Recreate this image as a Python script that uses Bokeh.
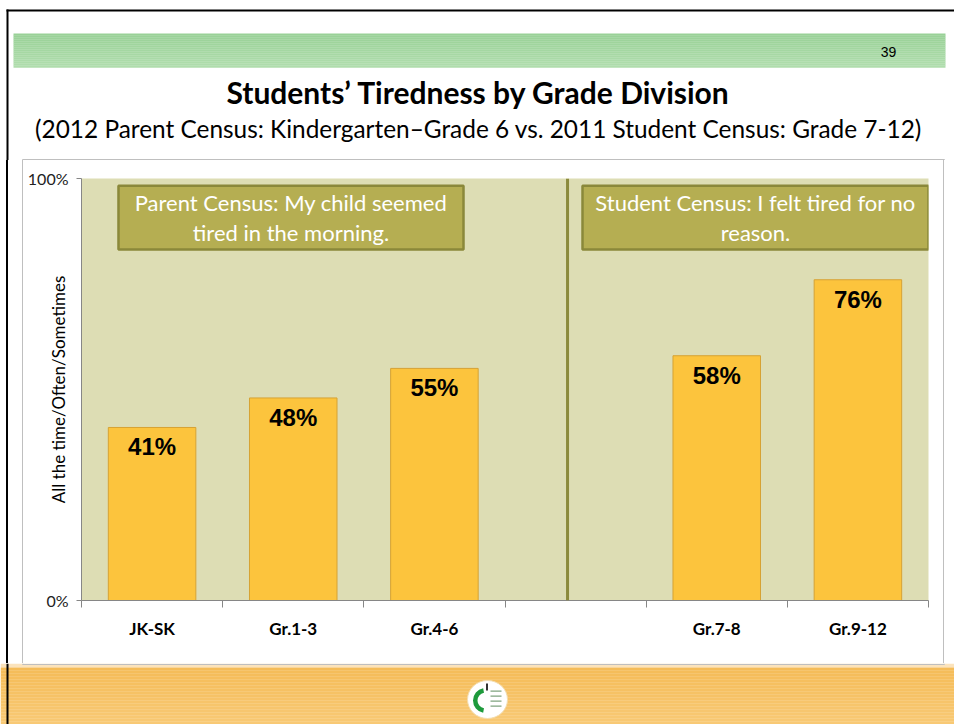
import math
from bokeh.plotting import figure
from bokeh.layouts import column, row
from bokeh.models import (ColumnDataSource, FixedTicker, PrintfTickFormatter, Span,
                          BoxAnnotation, Label, Range1d)
from bokeh.core.properties import value
from bokeh.embed import file_html
from bokeh.resources import INLINE

# ---------------- data ----------------
categories = ["JK-SK", "Gr.1-3", "Gr.4-6", "", "Gr.7-8", "Gr.9-12"]
values = [41, 48, 55, None, 58, 76]
y_ticks = [0, 100]
title_text = "Students’ Tiredness by Grade Division"
subtitle_text = "(2012 Parent Census: Kindergarten–Grade 6 vs. 2011 Student Census: Grade 7-12)"
y_label = "All the time/Often/Sometimes"
note_parent = "Parent Census: My child seemed\ntired in the morning."
note_student = "Student Census: I felt tired for no\nreason."
page_number = "39"

W = 954
BLACK = "black"
GRAY = "#BFBFBF"


def deco(width, height, x0, x1, y0, y1):
    """A plain decoration panel whose data units equal page pixels."""
    f = figure(width=width, height=height, x_range=Range1d(x0, x1), y_range=Range1d(y1, y0),
               output_backend="svg", toolbar_location=None, title=None,
               x_axis_type=None, y_axis_type=None, min_border=0)
    f.outline_line_color = None
    f.background_fill_color = "white"
    f.border_fill_color = "white"
    return f


def rect(f, l, r, t, b, color):
    f.quad(left=[l], right=[r], top=[t], bottom=[b], fill_color=color, line_color=None)


def shade(c0, c1, t):
    a = [int(c0[i:i + 2], 16) for i in (1, 3, 5)]
    b = [int(c1[i:i + 2], 16) for i in (1, 3, 5)]
    return "#" + "".join(f"{round(x + (y - x) * t):02x}" for x, y in zip(a, b))


def gradient_band(f, l, r, t, b, c0, c1, steps):
    h = (b - t) / steps
    for k in range(steps):
        rect(f, l, r, t + k * h, t + (k + 1) * h + 0.3, shade(c0, c1, k / (steps - 1)))


# ---------------- header (page y 0..160) ----------------
head = deco(W, 160, 0, W, 0, 160)
gradient_band(head, 13, 945, 33, 67, "#99D197", "#B0DDAD", 17)
rect(head, 6, W, 9, 11, BLACK)
rect(head, 6, 8, 9, 160, BLACK)
rect(head, 22, 944, 158.5, 159.5, GRAY)
rect(head, 22, 23, 158.5, 160, GRAY)
rect(head, 943, 944, 158.5, 160, GRAY)
head.text(x=[888], y=[51], text=[page_number], text_align="center", text_baseline="middle",
          text_font=value("Liberation Sans"), text_font_size="14px", text_color="black")
head.text(x=[478], y=[91], text=[title_text], text_align="center", text_baseline="middle",
          text_font=value("Lato"), text_font_style="bold", text_font_size="30px",
          text_color="black")
head.text(x=[478], y=[128], text=[subtitle_text], text_align="center", text_baseline="middle",
          text_font=value("Lato"), text_font_size="24.4px", text_color="black")

# ---------------- chart (page y 160..663) ----------------
p = figure(width=W, height=503, x_range=(0, len(categories)), y_range=(0, 100),
           output_backend="svg", toolbar_location=None,
           min_border_left=81, min_border_right=26, min_border_top=18, min_border_bottom=63)
p.background_fill_color = "#DDDDB4"
p.border_fill_alpha = 0
p.outline_line_color = None
p.xgrid.visible = False
p.ygrid.visible = False
# slide frame lines on the left/right of the chart area (page background)
p.styles = {"background": ("linear-gradient(to right, white 0px, white 6px, black 6px, "
                           "black 8px, white 8px, white 22px, #BFBFBF 22px, #BFBFBF 23px, "
                           "white 23px, white 943px, #BFBFBF 943px, #BFBFBF 944px, "
                           "white 944px, white 100%)")}

xs = [i + 0.5 for i, v in enumerate(values) if v is not None]
tops = [v for v in values if v is not None]
labels = [f"{v}%" for v in tops]
src = ColumnDataSource(dict(x=xs, top=tops, label=labels))

p.vbar(x="x", top="top", bottom=0, width=0.62, source=src,
       fill_color="#FCC43D", line_color="#D6A234", line_width=1)
p.text(x="x", y="top", text="label", source=src, text_align="center", text_baseline="top",
       y_offset=6, text_font=value("Liberation Sans"), text_font_style="bold",
       text_font_size="24px", text_color="black")

p.add_layout(Span(location=3.443, dimension="height", line_color="#8B8A3C", line_width=3))

for l, r, txt in [(0.262, 2.706, note_parent), (3.549, 6.0, note_student)]:
    p.add_layout(BoxAnnotation(left=l, right=r, top=98.3, bottom=83.2,
                               fill_color="#B5AE52", fill_alpha=1.0,
                               line_color="#8A883A", line_width=2.5, line_alpha=1.0))
    p.add_layout(Label(x=(l + r) / 2, y=90.75, text=txt, text_align="center",
                       text_baseline="middle", text_font="Lato", text_font_size="22px",
                       text_color="white", text_line_height=1.12))

xa = p.xaxis[0]
xa.ticker = FixedTicker(ticks=[i + 0.5 for i in range(len(categories))],
                        minor_ticks=list(range(len(categories) + 1)))
xa.major_label_overrides = {i + 0.5: c for i, c in enumerate(categories)}
xa.major_tick_out = 0
xa.major_tick_in = 0
xa.minor_tick_out = 7
xa.minor_tick_in = 0
xa.minor_tick_line_color = "#868686"
xa.axis_line_color = "#868686"
xa.major_label_standoff = 10
xa.major_label_text_font = "Lato"
xa.major_label_text_font_style = "bold"
xa.major_label_text_font_size = "17px"
xa.major_label_text_color = "black"

ya = p.yaxis[0]
ya.ticker = FixedTicker(ticks=y_ticks)
ya.formatter = PrintfTickFormatter(format="%d%%")
ya.major_tick_out = 5
ya.major_tick_in = 0
ya.minor_tick_line_color = None
ya.axis_line_color = "#868686"
ya.major_tick_line_color = "#868686"
ya.major_label_standoff = 8
ya.major_label_text_font = "Lato"
ya.major_label_text_font_size = "16px"
ya.major_label_text_color = "#222222"
ya.axis_label = y_label
ya.axis_label_standoff = -44
ya.axis_label_text_font = "Lato"
ya.axis_label_text_font_style = "normal"
ya.axis_label_text_font_size = "17px"
ya.axis_label_text_color = "black"

# ---------------- footer (page y 663..724) ----------------
foot = deco(W, 61, 0, W, 663, 724)
rect(foot, 0, W, 663, 667, "#FBE3BC")
gradient_band(foot, 0, W, 667, 724, "#F5BC58", "#F8C975", 19)
rect(foot, 22, 944, 663.5, 664.5, GRAY)
rect(foot, 22, 23, 663, 664.5, GRAY)
rect(foot, 943, 944, 663, 664.5, GRAY)
rect(foot, 6, 8, 663, 724, BLACK)
# logo
foot.ellipse(x=[487], y=[699], width=40, height=38, fill_color="white", line_color="#F3DDB0",
             line_width=1)
foot.annular_wedge(x=[485], y=[700], inner_radius=8, outer_radius=12.5,
                   start_angle=0.56 * math.pi, end_angle=1.44 * math.pi,
                   fill_color="#1E9A3C", line_color=None)
rect(foot, 485.5, 487.5, 683, 690, "#333333")
for yy in (690, 695, 700, 705):
    rect(foot, 490, 501, yy, yy + 1.3, "#7FA37F")

# the chart sits in its own row so that the column does not align the panels' frames
layout = column(head, row(p), foot)
open("out.html", "w").write(file_html(layout, INLINE))
